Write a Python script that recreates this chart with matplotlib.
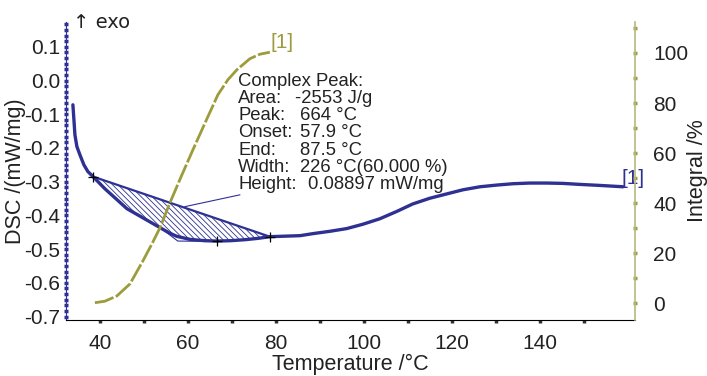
import matplotlib.pyplot as plt
from matplotlib.ticker import MultipleLocator, FixedLocator, FormatStrFormatter
import numpy as np

plt.rcParams['font.family'] = ['Liberation Sans', 'DejaVu Sans']
plt.rcParams['hatch.linewidth'] = 0.6

BLUE = "#2e3192"
OLIVE = "#9c9c3c"
OLIVE_AX = "#b8b87e"
TXT = "#222222"

# DSC curve
dsc_temp = [33.86, 34.09, 34.32, 34.77, 35.45, 36.36, 37.27, 38.45, 41.14, 43.86,
            46.14, 49.09, 51.36, 53.64, 55.91, 57.5, 60.45, 63.86, 66.59, 69.55,
            72.95, 75.91, 78.64, 80.9, 85.5, 88.4, 92.3, 96.1, 99.8, 103.6, 107.5,
            111.1, 115.0, 118.9, 122.5, 126.4, 130.2, 133.9, 137.7, 141.6, 145.2,
            149.1, 153.6, 158.9]
dsc_val = [-0.072, -0.116, -0.161, -0.196, -0.220, -0.250, -0.270, -0.285, -0.321,
           -0.353, -0.380, -0.402, -0.419, -0.436, -0.453, -0.462, -0.471, -0.475,
           -0.476, -0.475, -0.472, -0.468, -0.463, -0.462, -0.460, -0.454, -0.447,
           -0.439, -0.426, -0.410, -0.388, -0.366, -0.349, -0.336, -0.324, -0.315,
           -0.310, -0.306, -0.304, -0.304, -0.305, -0.308, -0.311, -0.315]

# integral curve
int_temp = [38.86, 41.14, 43.86, 46.82, 49.77, 51.82, 53.64, 55.91, 58.64, 61.14,
            63.86, 66.82, 69.09, 71.14, 74.09, 76.36, 78.64]
int_val = [0.2, 0.8, 2.9, 7.7, 16.9, 23.7, 30.1, 40.1, 51.3, 61.3, 71.9, 83.3,
           89.3, 93.3, 97.7, 99.5, 100.3]

# peak evaluation points
base_temp = [38.45, 78.64]
base_val = [-0.285, -0.463]
mark_temp = [38.45, 66.59, 78.64]
mark_val = [-0.285, -0.476, -0.463]
onset_temp = [54.3, 57.7, 66.6]
onset_val = [-0.442, -0.476, -0.477]
leader_temp = [71.8, 59.3]
leader_val = [-0.339, -0.374]

info_keys = ["Complex Peak:", "Area:", "Peak:", "Onset:", "End:", "Width:", "Height:"]
info_vals = ["", "-2553 J/g", "664 °C", "57.9 °C", "87.5 °C", "226 °C(60.000 %)",
             "0.08897 mW/mg"]
info_val_x = [0, 84.3, 85.5, 85.5, 85.5, 85.5, 87.3]

fig = plt.figure(figsize=(7.07, 3.76), dpi=100)
ax = fig.add_axes([0.0934, 0.149, 0.8046, 0.792])
ax2 = ax.twinx()

# hatched peak area between baseline and curve
t = np.array(dsc_temp)
v = np.array(dsc_val)
sel = (t >= base_temp[0] - 0.01) & (t <= base_temp[1] + 0.01)
bl = np.interp(t[sel], base_temp, base_val)
ax.fill_between(t[sel], v[sel], bl, facecolor="none", edgecolor=BLUE,
                hatch="\\\\\\\\\\\\", linewidth=0)

ax.plot(base_temp, base_val, color=BLUE, lw=1.6)
ax.plot(onset_temp, onset_val, color=BLUE, lw=0.8)
ax.plot(leader_temp, leader_val, color=BLUE, lw=0.8)
ax.plot(dsc_temp, dsc_val, color=BLUE, lw=2.4, solid_capstyle="round",
        solid_joinstyle="round")
ax.plot(mark_temp, mark_val, "+", color="black", ms=7, mew=0.9)

ax2.plot(int_temp, int_val, color=OLIVE, lw=2.0, dashes=(7, 0.9))

ax.set_xlim(32.3, 161.6)
ax.set_ylim(-0.71, 0.173)
ax2.set_ylim(-6.7, 112.3)

ax.xaxis.set_major_locator(FixedLocator([40, 60, 80, 100, 120, 140]))
ax.xaxis.set_minor_locator(FixedLocator([50, 70, 90, 110, 130, 150]))
ax.yaxis.set_major_locator(MultipleLocator(0.1))
ax.yaxis.set_minor_locator(MultipleLocator(0.1 / 6))
ax.yaxis.set_major_formatter(FormatStrFormatter("%.1f"))
ax2.yaxis.set_major_locator(MultipleLocator(20))
ax2.yaxis.set_minor_locator(MultipleLocator(10))

for a in (ax, ax2):
    a.spines["top"].set_visible(False)
ax.spines["left"].set_color(BLUE)
ax.spines["right"].set_visible(False)
ax2.spines["left"].set_visible(False)
ax2.spines["bottom"].set_visible(False)
ax2.spines["right"].set_color(OLIVE_AX)
ax2.spines["right"].set_linewidth(1.2)

ax.tick_params(axis="x", which="both", direction="out", length=2, width=2.5,
               color="#333333", labelsize=15, labelcolor=TXT, pad=8)
ax.tick_params(axis="y", which="both", direction="inout", length=2.5, width=2.5,
               color=BLUE, labelsize=15, labelcolor=TXT, pad=3)
ax2.tick_params(axis="y", which="both", direction="inout", length=2.5, width=2.5,
                color=OLIVE, labelsize=15, labelcolor=TXT, pad=12)

ax.set_xlabel("Temperature /°C", fontsize=15.5, color=TXT, labelpad=1)
fig.text(16 / 707, 0.545, "DSC /(mW/mg)", rotation=90, fontsize=15.5, color=TXT,
         ha="center", va="center")
fig.text(697 / 707, 0.545, "Integral /%", rotation=90, fontsize=15.5, color=TXT,
         ha="center", va="center")

ax.text(0.013, 1.0, "↑ exo", transform=ax.transAxes, fontsize=14, color=TXT,
        ha="left", va="center", family=["DejaVu Sans"])
ax2.text(78.8, 104.0, "[1]", fontsize=15, color=OLIVE, ha="left", va="center")
ax.text(158.5, -0.291, "[1]", fontsize=15, color=BLUE, ha="left", va="center")

for i, (k, val, vx) in enumerate(zip(info_keys, info_vals, info_val_x)):
    y = -0.004 - i * 0.0505
    ax.text(71.4, y, k, fontsize=13.3, color=TXT, ha="left", va="center")
    if val:
        ax.text(vx, y, val, fontsize=13.3, color=TXT, ha="left", va="center")

fig.savefig("out.png", dpi=100)
